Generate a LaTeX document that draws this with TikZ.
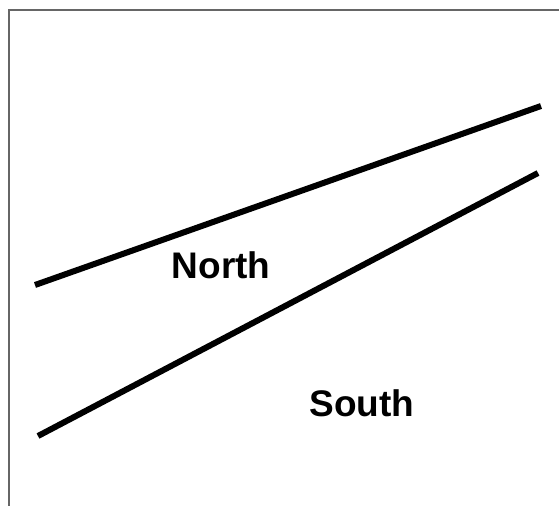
\documentclass[tikz,border=0pt]{standalone}
\usepackage{fontspec}
\setmainfont{Liberation Sans}
\begin{document}
\begin{tikzpicture}[x=1pt,y=-1pt,
  frame/.style={draw=black!60, line width=1.3pt},
  boundary/.style={draw=black, line width=6pt},
  label/.style={font=\bfseries\fontsize{37}{42}\selectfont, inner sep=0pt}]
\useasboundingbox (0,0) rectangle (559,506);
\fill[white] (0,0) rectangle (559,506);
\draw[frame] (559,10) -- (9,10) -- (9,506);
\coordinate (n1) at (35,285);
\coordinate (n2) at (541,106);
\coordinate (s1) at (38,436);
\coordinate (s2) at (538,173);
\draw[boundary] (n1) -- (n2);
\draw[boundary] (s1) -- (s2);
\node[label, anchor=base] (north) at (221,278) {North};
\node[label, anchor=base] (south) at (362,416) {South};
\end{tikzpicture}
\end{document}
